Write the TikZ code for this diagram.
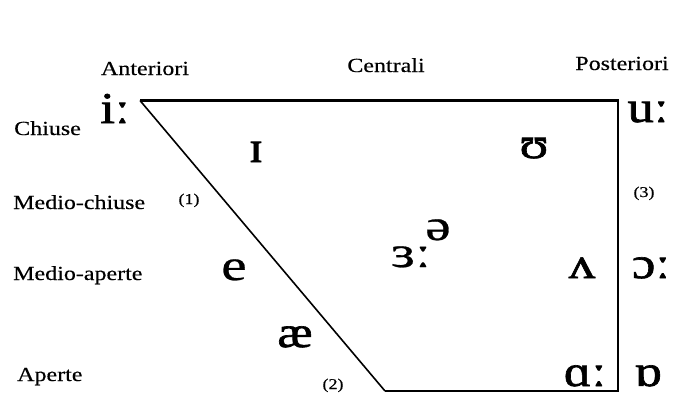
\documentclass[tikz,border=0pt]{standalone}
\usepackage{fontspec}
\setmainfont{Liberation Serif}
\newfontfamily\lblfont[FakeStretch=1.2,FakeBold=0.4]{Liberation Serif}
\newfontfamily\ipafont[FakeStretch=1.2,FakeBold=1.5]{Liberation Serif}
\newfontfamily\ipalight[FakeStretch=1.3,FakeBold=0.6]{Liberation Serif}
\begin{document}
\begin{tikzpicture}[x=1pt,y=-1pt,
  lbl/.style={inner sep=0pt, anchor=base west, font=\lblfont\fontsize{20}{24}\selectfont},
  head/.style={inner sep=0pt, anchor=base, font=\lblfont\fontsize{20}{24}\selectfont},
  num/.style={inner sep=0pt, anchor=base, font=\lblfont\fontsize{15}{18}\selectfont},
  ipa/.style={inner sep=0pt, anchor=base, text depth=0pt, font=\ipafont\fontsize{44}{50}\selectfont},
  ipathin/.style={ipa, font=\ipalight\fontsize{44}{50}\selectfont},
  topedge/.style={line width=3pt},
  sideedge/.style={line width=2pt},
  diagedge/.style={line width=1.6pt}]
\useasboundingbox (0,0) rectangle (674,394);

% trapezoid corners
\coordinate (tl) at (140,100.5);
\coordinate (tr) at (618,100.5);
\coordinate (br) at (618,391);
\coordinate (bl) at (385,391);
\draw[topedge] (tl) -- ([xshift=1pt]tr);
\draw[sideedge] (tr) -- (br) -- (bl);
\draw[diagedge] (tl) -- (bl);

% column headings
\node[head] (ant) at (145,75) {Anteriori};
\node[head] (cen) at (386,72) {Centrali};
\node[head] (pos) at (622,70) {Posteriori};

% row labels
\node[lbl] (chi) at (14,135) {Chiuse};
\node[lbl] (mch) at (13,209) {Medio-chiuse};
\node[lbl] (map) at (13,280) {Medio-aperte};
\node[lbl] (ape) at (17,381) {Aperte};

% numbers
\node[num] (n1) at (189,204) {(1)};
\node[num] (n2) at (333,389) {(2)};
\node[num] (n3) at (644,197) {(3)};

% vowels
\node[ipa] (v1) at (115,123) {iː};
\node[ipa] (v2) at (256,162) {ɪ};
\node[ipa] (v3) at (534,158) {ʊ};
\node[ipa] (v4) at (648,122) {uː};
\node[ipathin] (v5) at (438,240) {ə};
\node[ipathin] (v6) at (411,267) {ɜː};
\node[ipathin] (v7) at (234,280) {e};
\node[ipa] (v8) at (582,278) {ʌ};
\node[ipa] (v9) at (651,278) {ɔː};
\node[ipa] (v10) at (295,347) {æ};
\node[ipa] (v11) at (585,386) {ɑː};
\node[ipa] (v12) at (648,386) {ɒ};
\end{tikzpicture}
\end{document}
